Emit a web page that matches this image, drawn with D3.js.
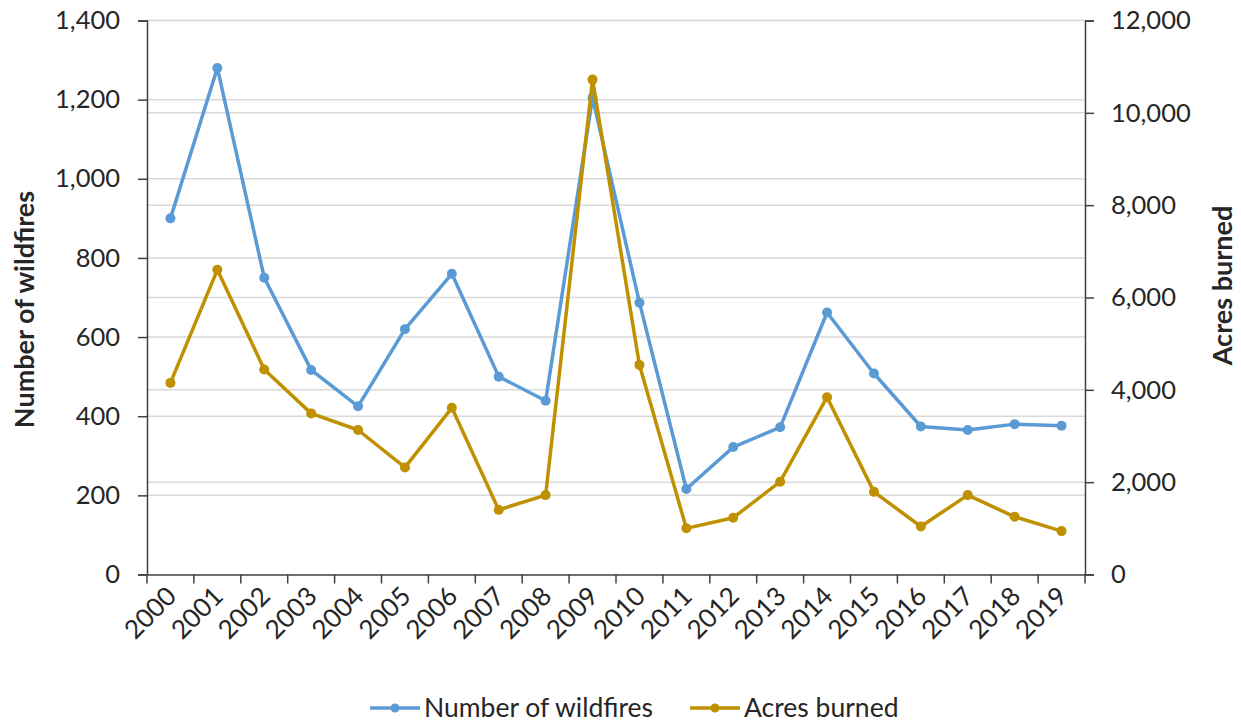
<!DOCTYPE html>
<html>
<head>
<meta charset="utf-8">
<script src="https://cdn.jsdelivr.net/npm/d3@7"></script>
<style>
  html, body { margin: 0; padding: 0; background: #fff; }
  svg text { font-family: Lato, "Open Sans", "Liberation Sans", sans-serif; fill: #262626; }
</style>
</head>
<body>
<svg id="chart" width="1241" height="723"></svg>
<script>
// Wildfire counts and acreage by year
const years = ["2000","2001","2002","2003","2004","2005","2006","2007","2008","2009",
               "2010","2011","2012","2013","2014","2015","2016","2017","2018","2019"];
const wildfires = [900, 1280, 750, 517, 425, 620, 760, 500, 439, 1205,
                   687, 216, 322, 372, 662, 508, 374, 365, 380, 376];
const acres = [4150, 6600, 4440, 3490, 3130, 2320, 3610, 1400, 1720, 10720,
               4540, 1000, 1230, 2010, 3840, 1790, 1040, 1720, 1250, 940];
const leftTicks = [0, 200, 400, 600, 800, 1000, 1200, 1400];
const rightTicks = [0, 2000, 4000, 6000, 8000, 10000, 12000];
const seriesNames = ["Number of wildfires", "Acres burned"];
const colors = ["#5B9BD5", "#BF9000"];

const svg = d3.select("#chart");
const plot = { left: 147, right: 1085, top: 20.5, bottom: 574.5 };

const x = d3.scaleBand().domain(years).range([plot.left, plot.right]).padding(0);
const yL = d3.scaleLinear().domain([0, 1400]).range([plot.bottom, plot.top]);
const yR = d3.scaleLinear().domain([0, 12000]).range([plot.bottom, plot.top]);
const fmt = d3.format(",");

// Gridlines for both value axes
const grid = svg.append("g");
grid.selectAll("line.gl").data(leftTicks.slice(1)).join("line")
  .attr("x1", plot.left).attr("x2", plot.right)
  .attr("y1", d => yL(d)).attr("y2", d => yL(d))
  .attr("stroke", "#d9d9d9").attr("stroke-width", 1.5);
grid.selectAll("line.gr").data(rightTicks.slice(1)).join("line")
  .attr("x1", plot.left).attr("x2", plot.right)
  .attr("y1", d => yR(d)).attr("y2", d => yR(d))
  .attr("stroke", "#d9d9d9").attr("stroke-width", 1.5);

const axisColor = "#404040";
const tickFont = 25.5;
function styleAxis(g) {
  g.select(".domain").attr("stroke", axisColor).attr("stroke-width", 1.5);
  g.selectAll(".tick line").attr("stroke", axisColor).attr("stroke-width", 1.5);
  g.selectAll(".tick text").attr("font-size", tickFont).attr("fill", "#262626");
}

// Left axis
const gL = svg.append("g").attr("transform", `translate(${plot.left},0)`)
  .call(d3.axisLeft(yL).tickValues(leftTicks).tickFormat(fmt).tickSize(9).tickSizeOuter(9).tickPadding(18));
styleAxis(gL);

// Right axis
const gR = svg.append("g").attr("transform", `translate(${plot.right},0)`)
  .call(d3.axisRight(yR).tickValues(rightTicks).tickFormat(fmt).tickSize(9).tickSizeOuter(9).tickPadding(17));
styleAxis(gR);

// Bottom axis: ticks on the band boundaries
const gB = svg.append("g").attr("transform", `translate(0,${plot.bottom})`)
  .call(d3.axisBottom(x).tickSize(0).tickSizeOuter(0).tickFormat(""));
gB.select(".domain").attr("stroke", axisColor).attr("stroke-width", 1.5);
const boundaries = years.map(d => x(d)).concat([x(years[years.length - 1]) + x.bandwidth()]);
gB.selectAll("line.bt").data(boundaries).join("line")
  .attr("x1", d => d).attr("x2", d => d).attr("y1", 0).attr("y2", 9)
  .attr("stroke", axisColor).attr("stroke-width", 1.5);
gB.selectAll("text.yl").data(years).join("text")
  .attr("class", "yl")
  .attr("text-anchor", "end")
  .attr("font-size", 26)
  .attr("transform", d => `translate(${x(d) + x.bandwidth() / 2 + 1},${17}) rotate(-45)`)
  .attr("dy", "0.35em")
  .text(d => d);

// Axis titles
svg.append("text")
  .attr("transform", `translate(34,${(plot.top + plot.bottom) / 2 + 12}) rotate(-90)`)
  .attr("text-anchor", "middle").attr("font-size", 27).attr("font-weight", "bold")
  .text("Number of wildfires");
svg.append("text")
  .attr("transform", `translate(1232,${(plot.top + plot.bottom) / 2 - 12}) rotate(-90)`)
  .attr("text-anchor", "middle").attr("font-size", 27).attr("font-weight", "bold")
  .text("Acres burned");

// Series lines with markers
const cx = d => x(d) + x.bandwidth() / 2;
const series = [
  { name: seriesNames[0], values: wildfires, y: yL, color: colors[0] },
  { name: seriesNames[1], values: acres, y: yR, color: colors[1] }
];
series.forEach(s => {
  const pts = years.map((yr, i) => [cx(yr), s.y(s.values[i])]);
  svg.append("path")
    .attr("d", d3.line()(pts))
    .attr("fill", "none").attr("stroke", s.color)
    .attr("stroke-width", 3.5).attr("stroke-linejoin", "round").attr("stroke-linecap", "round");
  svg.append("g").selectAll("circle").data(pts).join("circle")
    .attr("cx", d => d[0]).attr("cy", d => d[1]).attr("r", 5)
    .attr("fill", s.color);
});

// Legend
const legendItems = [
  { name: seriesNames[0], color: colors[0], x: 370 },
  { name: seriesNames[1], color: colors[1], x: 690 }
];
const legY = 708;
const lg = svg.append("g");
legendItems.forEach(it => {
  lg.append("line").attr("x1", it.x).attr("x2", it.x + 50).attr("y1", legY).attr("y2", legY)
    .attr("stroke", it.color).attr("stroke-width", 3.5);
  lg.append("circle").attr("cx", it.x + 25).attr("cy", legY).attr("r", 4.5).attr("fill", it.color);
  lg.append("text").attr("x", it.x + 54).attr("y", legY).attr("dy", "0.35em")
    .attr("font-size", 26.5).text(it.name);
});
</script>
</body>
</html>
